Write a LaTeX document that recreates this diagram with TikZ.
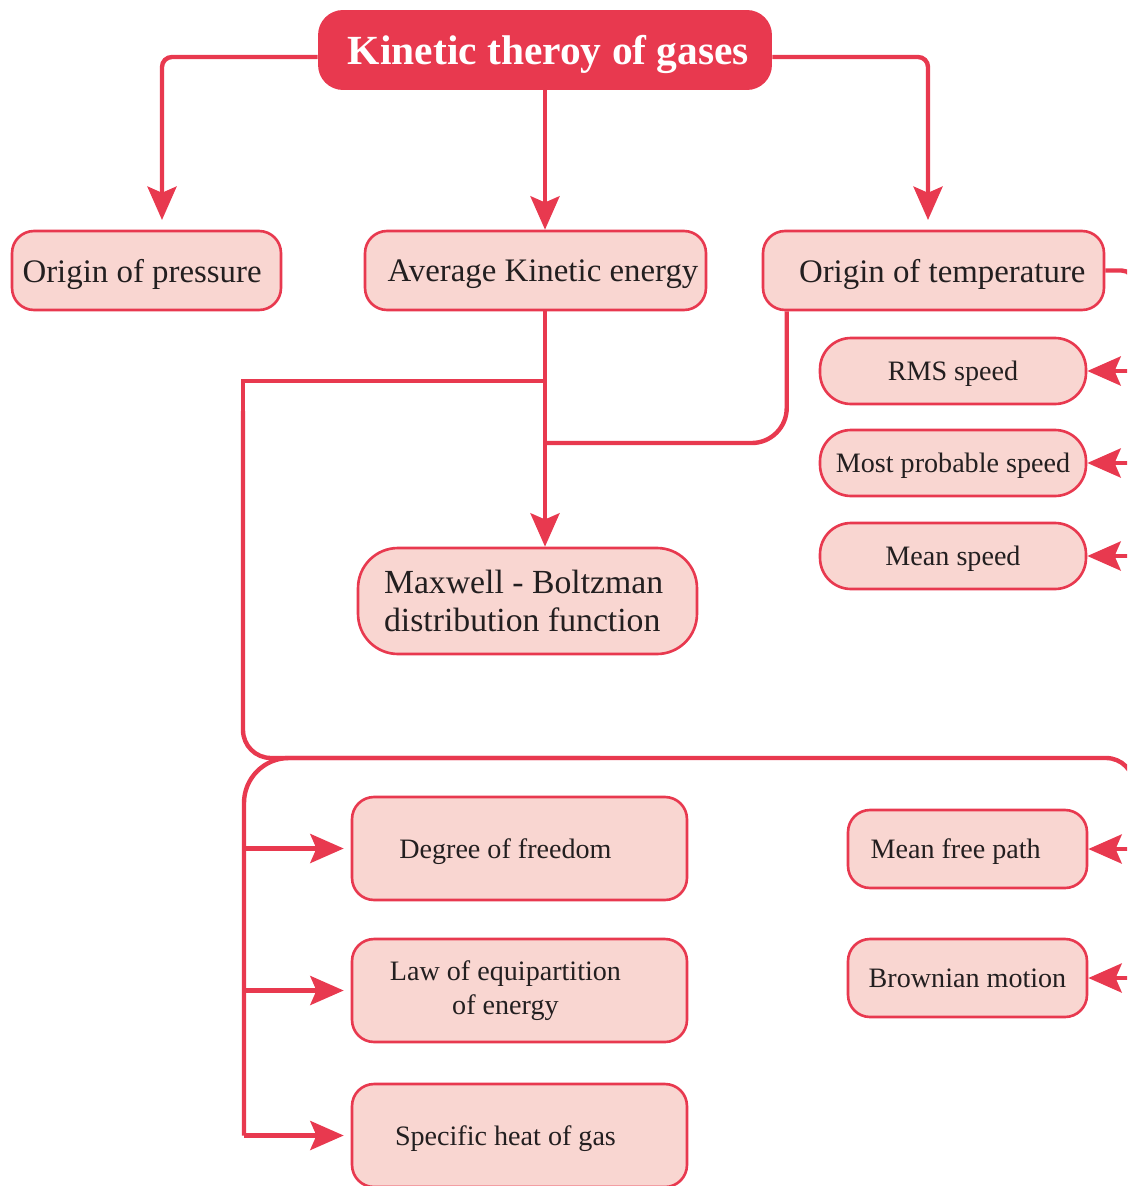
\documentclass[tikz,border=0pt]{standalone}
\usepackage{fontspec}
\setmainfont{Liberation Serif}
\usetikzlibrary{arrows.meta,calc}
\definecolor{kred}{HTML}{E8394F}
\definecolor{kpink}{HTML}{F9D6D1}
\definecolor{ktext}{HTML}{231F20}

\begin{document}
\begin{tikzpicture}[x=0.02cm,y=-0.02cm,
  box/.style={draw=kred, fill=kpink, line width=1.5pt, text=ktext, inner sep=0pt, align=center},
  one/.style={text depth=0pt},
  titlebox/.style={fill=kred, text=white, inner sep=0pt, text depth=0pt, font=\bfseries\fontsize{23.6}{26}\selectfont},
  conn/.style={draw=kred, line width=2.5pt},
  arr/.style={conn, -{Stealth[length=19pt,width=16.5pt,inset=3.5pt]}},
  big/.style={font=\fontsize{18.7}{22}\selectfont},
  small/.style={font=\fontsize{16}{19}\selectfont},
]
\useasboundingbox (0,0) rectangle (1127,1186);
\clip (0,0) rectangle (1127,1186);

% main title
\node[titlebox, minimum width=9.08cm, minimum height=1.6cm, rounded corners=0.5cm] (title) at (545,50) {\hspace*{4pt}Kinetic theroy of gases};

% first row
\node[box, big, one, minimum width=5.38cm, minimum height=1.58cm, rounded corners=0.44cm] (press) at (146.5,270.5) {Origin of pressure\hspace*{5pt}};
\node[box, big, one, minimum width=6.82cm, minimum height=1.58cm, rounded corners=0.44cm] (avg) at (535.5,270.5) {\hspace*{8.5pt}Average Kinetic energy};
\node[box, big, one, minimum width=6.82cm, minimum height=1.58cm, rounded corners=0.44cm] (temp) at (933.5,270.5) {\hspace*{10pt}Origin of temperature};

% speeds
\node[box, small, one, minimum width=5.32cm, minimum height=1.32cm, rounded corners=0.62cm] (rms) at (953,371) {RMS speed};
\node[box, small, one, minimum width=5.32cm, minimum height=1.32cm, rounded corners=0.62cm] (mps) at (953,463) {Most probable speed};
\node[box, small, one, minimum width=5.32cm, minimum height=1.32cm, rounded corners=0.62cm] (mean) at (953,556) {Mean speed};

% distribution function
\node[box, font=\fontsize{19.2}{22}\selectfont, minimum width=6.78cm, minimum height=2.12cm, rounded corners=0.8cm, align=left] (maxw) at (527.5,601) {Maxwell - Boltzman\\distribution function\hspace*{6pt}};

% lower left column
\node[box, small, one, minimum width=6.7cm, minimum height=2.06cm, rounded corners=0.44cm] (dof) at (519.5,848.5) {Degree of freedom\hspace*{16pt}};
\node[box, small, minimum width=6.7cm, minimum height=2.06cm, rounded corners=0.44cm] (law) at (519.5,990.5) {Law of equipartition\hspace*{16pt}\\of energy\hspace*{16pt}};
\node[box, small, one, minimum width=6.7cm, minimum height=2.06cm, rounded corners=0.44cm] (heat) at (519.5,1135.5) {Specific heat of gas\hspace*{16pt}};

% lower right column
\node[box, small, one, minimum width=4.78cm, minimum height=1.56cm, rounded corners=0.44cm] (mfp) at (967.5,849) {Mean free path\hspace*{13.5pt}};
\node[box, small, one, minimum width=4.78cm, minimum height=1.56cm, rounded corners=0.44cm] (brown) at (967.5,978) {Brownian motion};

% junction points
\coordinate (pin) at (162,220);
\coordinate (tin) at (928,220);
\coordinate (j1) at (544,381);
\coordinate (j2) at (544,443);
\coordinate (tb) at ($(temp.south west)+(25,0)$);
\coordinate (lc) at (243,381);
\coordinate (lb) at (244,1135.5);

% from the title
\draw[arr, rounded corners=0.2cm] ($(title.west)+(0,7)$) -| (pin);
\draw[arr] (title.south) -- (title.south |- avg.north);
\draw[arr, rounded corners=0.2cm] ($(title.east)+(0,7)$) -| (tin);

% kinetic energy to distribution function
\draw[arr] (title.south |- avg.south) -- (title.south |- maxw.north);
\draw[conn, rounded corners=0.7cm] (tb) -- (tb |- j2) -- (j2);

% long loop round the left side
\draw[conn] (j1) -- (lc) -- ($(lc)+(0,40)$);
\draw[conn, rounded corners=0.56cm] ($(lc)+(0,30)$) -- (243,758) -- (1134,758) -- (1134,1000);
\draw[conn, rounded corners=0.9cm] (lb) -- (244,758) -- (600,758);

% branches to the lower left boxes
\draw[arr, shorten >=4pt] ($(dof.west)+(-108,0)$) -- (dof.west);
\draw[arr, shorten >=4pt] ($(law.west)+(-108,0)$) -- (law.west);
\draw[arr, shorten >=4pt] (lb) -- (heat.west);

% right side feeds
\draw[conn, rounded corners=0.25cm] (temp.east) -- (1134,270.5) -- (1134,600);
\draw[arr] ($(rms.east)+(60,0)$) -- (rms.east);
\draw[arr] ($(mps.east)+(60,0)$) -- (mps.east);
\draw[arr] ($(mean.east)+(60,0)$) -- (mean.east);
\draw[arr] ($(mfp.east)+(60,0)$) -- (mfp.east);
\draw[arr] ($(brown.east)+(60,0)$) -- (brown.east);
\end{tikzpicture}
\end{document}
